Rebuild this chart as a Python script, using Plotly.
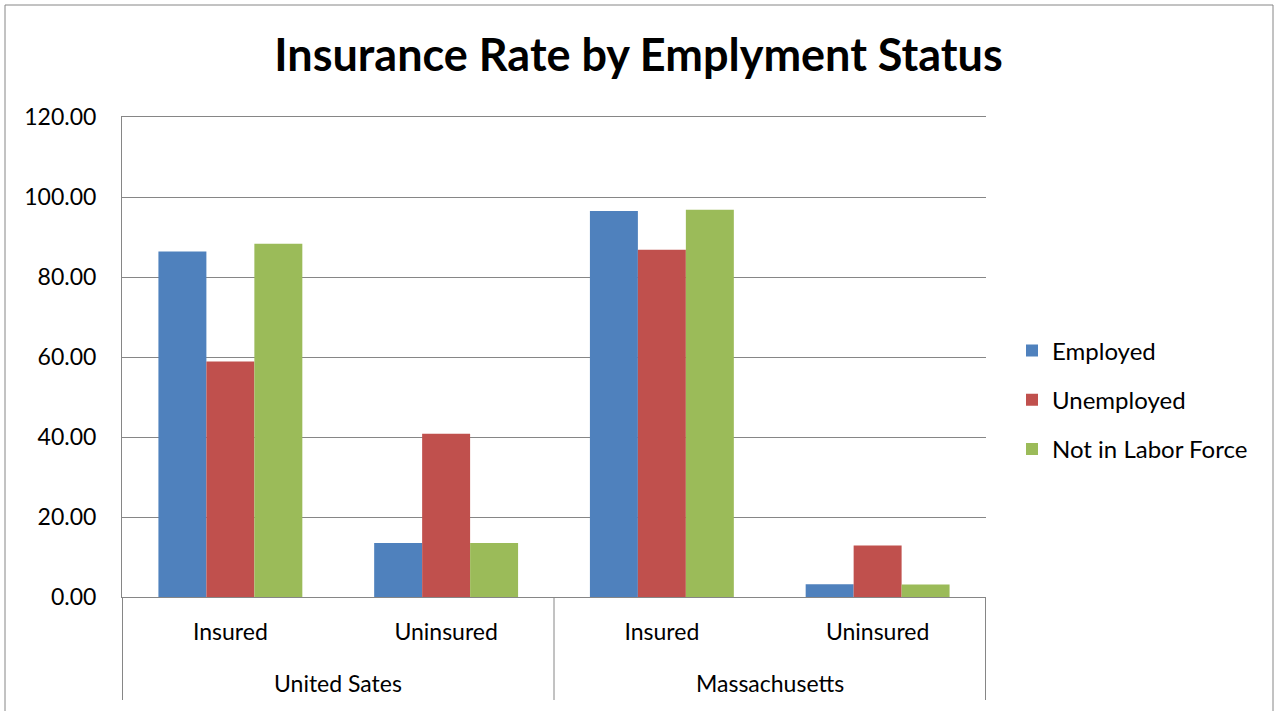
import plotly.graph_objects as go

regions = ["United Sates", "United Sates", "Massachusetts", "Massachusetts"]
statuses = ["Insured", "Uninsured", "Insured", "Uninsured"]
region_groups = ["United Sates", "Massachusetts"]

employed = [86.4, 13.5, 96.5, 3.2]
unemployed = [58.9, 40.8, 86.8, 12.9]
not_in_lf = [88.3, 13.5, 96.8, 3.1]

series_names = ["Employed", "Unemployed", "Not in Labor Force"]
series_values = [employed, unemployed, not_in_lf]
colors = ["#4F81BD", "#C0504D", "#9BBB59"]

y_ticks = [0, 20, 40, 60, 80, 100, 120]

categories = [f"{r} | {s}" for r, s in zip(regions, statuses)]

W, H = 1277, 711
L, R, T, B = 122, 986, 117, 597

FONT = "Lato, 'Open Sans', sans-serif"
GRID = "#868686"

fig = go.Figure()
for i, (name, vals, col) in enumerate(zip(series_names, series_values, colors)):
    fig.add_trace(go.Bar(
        x=categories, y=vals, name=name,
        marker=dict(color=col, line=dict(width=0)),
        legendgroup=f"g{i}",
    ))


def px_to_paper_x(px):
    return (px - L) / (R - L)


def px_to_paper_y(py):
    return (B - py) / (B - T)


fig.update_layout(
    width=W, height=H,
    margin=dict(l=L, r=W - R, t=T, b=H - B, pad=0),
    paper_bgcolor="white", plot_bgcolor="white",
    barmode="group", bargap=0.333, bargroupgap=0,
    font=dict(family=FONT, color="black", size=23),
    title=dict(text="<b>Insurance Rate by Emplyment Status</b>",
               x=0.5, xref="container", xanchor="center",
               y=1 - 55 / H, yref="container", yanchor="middle",
               font=dict(family=FONT, size=45, color="black")),
    legend=dict(x=px_to_paper_x(1012), xanchor="left",
                y=px_to_paper_y(400), yanchor="middle",
                font=dict(family=FONT, size=24, color="black"),
                tracegroupgap=15, bgcolor="rgba(0,0,0,0)"),
    showlegend=True,
)

fig.update_xaxes(
    type="category", categoryorder="array", categoryarray=categories,
    tickvals=categories, ticktext=statuses,
    showline=True, linecolor=GRID, linewidth=1, mirror=True,
    showgrid=False, ticks="", ticklabelstandoff=14,
    tickfont=dict(family=FONT, size=23, color="black"),
)
fig.update_yaxes(
    range=[0, 120], tickvals=y_ticks, tickformat=".2f",
    showgrid=True, gridcolor=GRID, gridwidth=1,
    showline=True, linecolor=GRID, linewidth=1,
    zeroline=False,
    ticks="", ticklabelstandoff=20,
    tickfont=dict(family=FONT, size=23, color="black"),
)

# group labels and dividers of the two-level category axis
for gi, g in enumerate(region_groups):
    fig.add_annotation(x=gi * 2 + 0.5, xref="x", y=px_to_paper_y(683), yref="paper",
                       text=g, showarrow=False, xanchor="center", yanchor="middle",
                       font=dict(family=FONT, size=23, color="black"))
for xd in [-0.5, 1.5, 3.5]:
    fig.add_shape(type="line", xref="x", yref="paper",
                  x0=xd, x1=xd, y0=0, y1=px_to_paper_y(700),
                  line=dict(color=GRID, width=1))

fig.add_shape(type="rect", xref="paper", yref="paper",
              x0=px_to_paper_x(5), x1=px_to_paper_x(1273),
              y0=px_to_paper_y(720), y1=px_to_paper_y(5),
              line=dict(color=GRID, width=1), layer="below")

fig.write_html("out.html")
